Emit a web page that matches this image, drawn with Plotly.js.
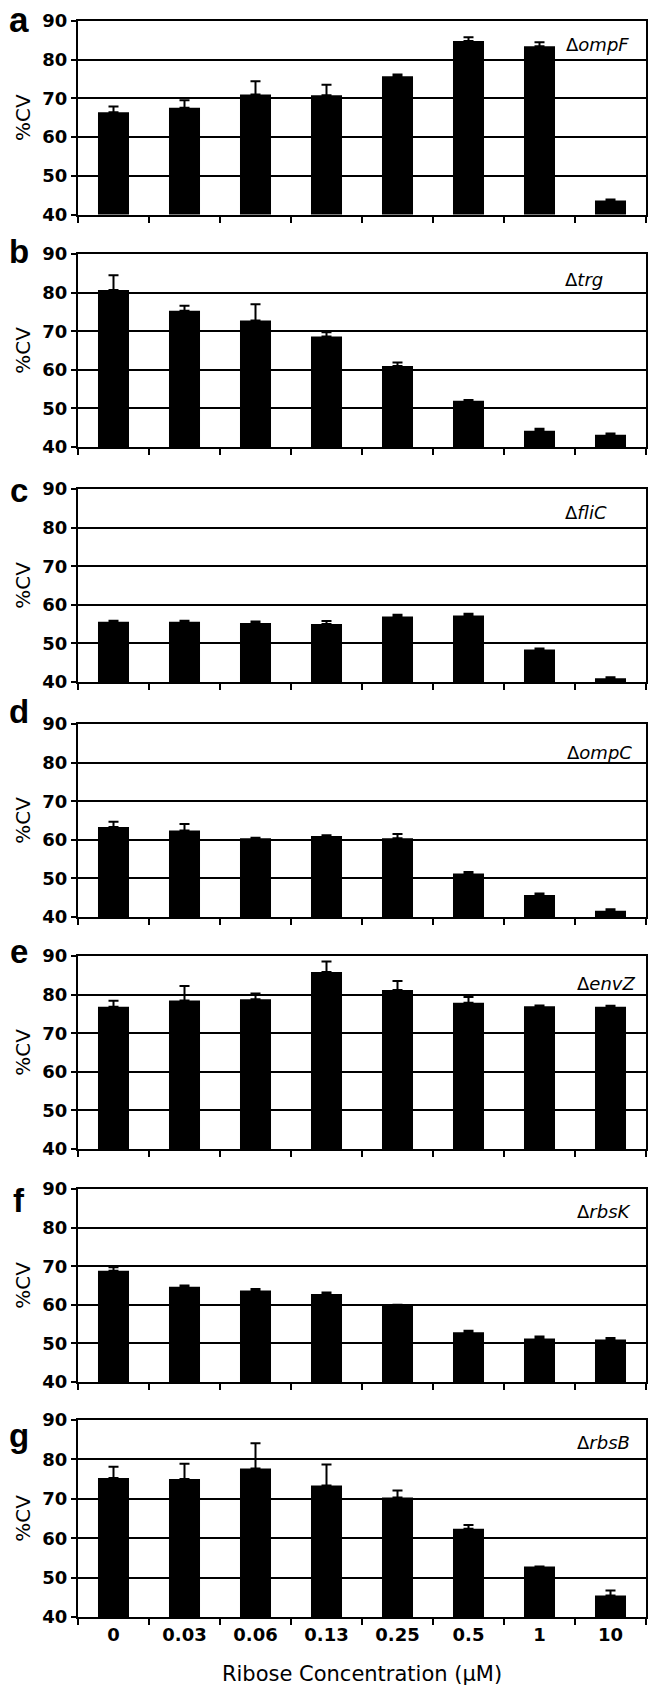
<!DOCTYPE html>
<html><head><meta charset="utf-8">
<script src="https://cdn.plot.ly/plotly-3.0.1.min.js"></script>
<style>html,body{margin:0;padding:0;background:#fff}#chart{width:656px;height:1689px}</style>
</head><body><div id="chart"></div>
<script>
// ---- data ----
const categories = ['0', '0.03', '0.06', '0.13', '0.25', '0.5', '1', '10'];
const ompF    = [66.4, 67.6, 71.0, 70.8, 75.7, 84.8, 83.5, 43.6];
const ompFErr = [1.5, 1.9, 3.4, 2.7, 0.5, 1.0, 1.0, 0.3];
const trg     = [80.7, 75.3, 72.8, 68.6, 61.0, 52.0, 44.2, 43.2];
const trgErr  = [3.8, 1.3, 4.2, 1.1, 0.9, 0.2, 0.5, 0.3];
const fliC    = [55.6, 55.6, 55.3, 55.0, 57.0, 57.2, 48.4, 40.95];
const fliCErr = [0.3, 0.3, 0.4, 0.8, 0.4, 0.5, 0.3, 0.25];
const ompC    = [63.3, 62.4, 60.4, 61.0, 60.4, 51.25, 45.7, 41.6];
const ompCErr = [1.4, 1.7, 0.1, 0.2, 1.1, 0.4, 0.4, 0.4];
const envZ    = [76.85, 78.5, 78.8, 85.85, 81.2, 77.9, 77.0, 76.85];
const envZErr = [1.55, 3.7, 1.5, 2.75, 2.3, 1.5, 0.2, 0.25];
const rbsK    = [68.8, 64.65, 63.7, 62.8, 59.9, 52.9, 51.3, 51.0];
const rbsKErr = [0.9, 0.35, 0.4, 0.4, 0.1, 0.4, 0.5, 0.4];
const rbsB    = [75.3, 75.0, 77.7, 73.4, 70.3, 62.4, 52.8, 45.45];
const rbsBErr = [2.85, 3.9, 6.4, 5.3, 1.8, 0.95, 0, 1.3];
const panelLetters = ['a', 'b', 'c', 'd', 'e', 'f', 'g'];
const geneNames = ['ompF', 'trg', 'fliC', 'ompC', 'envZ', 'rbsK', 'rbsB'];
const yTitle = '%CV';
const xTitle = 'Ribose Concentration (µM)';

const seriesList = [ompF, trg, fliC, ompC, envZ, rbsK, rbsB];
const errList = [ompFErr, trgErr, fliCErr, ompCErr, envZErr, rbsKErr, rbsBErr];

// ---- layout geometry (pixels) ----
const W = 656, H = 1689;
const M = {l: 78, r: 10, t: 21, b: 72};
const plotH = H - M.t - M.b, plotW = W - M.l - M.r;
const panelPx = [[21, 214.5], [254, 447], [489, 682], [724, 917], [956, 1149], [1189, 1382], [1420, 1617]];
const geneXpx = [564, 563, 563, 565, 575, 575, 575];
const geneYval = [83.8, 83.3, 84.0, 82.5, 82.8, 84.3, 84.4];
const letterSize = [35, 33, 33, 33, 33, 33, 33];
const letterBase = [32, 263, 502, 723, 963, 1212, 1447];

const py = p => (H - M.b - p) / plotH;
const px = p => (p - M.l) / plotW;

const traces = [];
const layout = {
  width: W, height: H,
  margin: M,
  paper_bgcolor: '#fff', plot_bgcolor: '#fff',
  showlegend: false,
  bargap: 0.563,
  annotations: []
};

const tickFont = {family: 'DejaVu Sans', size: 18, color: '#000', weight: 'bold'};

for (let i = 0; i < 7; i++) {
  const s = i === 0 ? '' : String(i + 1);
  traces.push({
    type: 'bar', x: categories, y: seriesList[i],
    xaxis: 'x' + s, yaxis: 'y' + s,
    marker: {color: '#000', line: {width: 0}},
    error_y: {type: 'data', symmetric: false, array: errList[i],
              arrayminus: errList[i].map(() => 0),
              color: '#000', thickness: 2, width: 5},
    hoverinfo: 'skip'
  });
  const [top, bot] = panelPx[i];
  const xa = {
    domain: [0, 1], anchor: 'y' + s, type: 'category',
    showline: true, linecolor: '#000', linewidth: 2, mirror: true,
    ticks: 'outside', tickson: 'boundaries', ticklen: 6, tickwidth: 2, tickcolor: '#000',
    showgrid: false, zeroline: false,
    showticklabels: i === 6, tickfont: tickFont, fixedrange: true
  };
  if (i === 6) xa.title = {text: xTitle, font: {family: 'DejaVu Sans', size: 21, color: '#000'}, standoff: 23};
  const ya = {
    domain: [Math.max(0, py(bot)), Math.min(1, py(top))], anchor: 'x' + s,
    range: [40, 90], tick0: 40, dtick: 10,
    showline: true, linecolor: '#000', linewidth: 2, mirror: true,
    ticks: 'outside', ticklen: 5, tickwidth: 2, tickcolor: '#000',
    showgrid: true, gridcolor: '#000', gridwidth: 2, zeroline: false,
    tickfont: tickFont, fixedrange: true,
    title: {text: yTitle, font: {family: 'DejaVu Sans', size: 20, color: '#000'}, standoff: 6}
  };
  layout['xaxis' + s] = xa;
  layout['yaxis' + s] = ya;

  layout.annotations.push({
    xref: 'x' + s + ' domain', yref: 'y' + s,
    x: px(geneXpx[i]) , y: geneYval[i],
    xanchor: 'left', yanchor: 'middle', showarrow: false,
    text: 'Δ<i>' + geneNames[i] + '</i>',
    font: {family: 'DejaVu Sans', size: 18, color: '#000'}
  });
  const mid = letterBase[i] - 0.36 * letterSize[i];
  layout.annotations.push({
    xref: 'paper', yref: 'paper',
    x: px(19), y: py(mid),
    xanchor: 'center', yanchor: 'middle', showarrow: false,
    text: panelLetters[i],
    font: {family: 'Liberation Sans', size: letterSize[i], color: '#000', weight: 'bold'}
  });
}

Plotly.newPlot('chart', traces, layout, {displayModeBar: false, staticPlot: true});
</script>
</body></html>
